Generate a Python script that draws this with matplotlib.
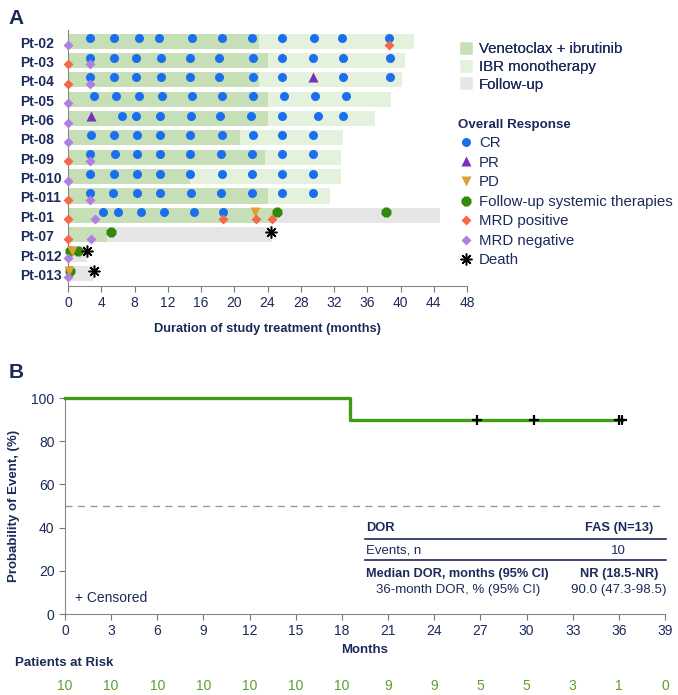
import matplotlib.pyplot as plt
from matplotlib.lines import Line2D
from matplotlib.transforms import blended_transform_factory

plt.rcParams['font.family'] = ['Liberation Sans', 'DejaVu Sans']

NAVY = '#1c2a5a'
C_COMBO = '#c6dfb6'
C_IBR = '#e4f1dc'
C_FU = '#e6e6e6'
C_CR = '#1a6ff0'
C_PR = '#7a2ec0'
C_PD = '#e0a035'
C_FUT = '#2f8a0c'
C_POS = '#f4694a'
C_NEG = '#b17ee2'

# ---------- panel A data ----------
patients = ['Pt-02', 'Pt-03', 'Pt-04', 'Pt-05', 'Pt-06', 'Pt-08', 'Pt-09',
            'Pt-010', 'Pt-011', 'Pt-01', 'Pt-07', 'Pt-012', 'Pt-013']
combo_end = [23.0, 24.0, 23.0, 24.0, 24.0, 20.7, 23.7, 14.7, 24.0, 24.8, 4.7, 0.4, 0.3]
ibr_end = [41.6, 40.6, 40.2, 38.8, 36.9, 33.1, 32.9, 32.8, 31.5, None, None, None, None]
fu_end = [None, None, None, None, None, None, None, None, None, 44.8, 24.5, 2.3, 3.1]

cr = [
    [2.6, 5.5, 8.5, 11.0, 14.9, 18.5, 22.1, 25.7, 29.6, 33.0, 38.6],
    [2.6, 5.5, 8.2, 11.2, 14.7, 18.2, 22.2, 25.8, 29.5, 33.1, 38.7],
    [2.6, 5.5, 8.2, 11.2, 14.7, 18.2, 22.2, 25.8, 33.1, 38.7],
    [3.1, 5.8, 8.5, 11.3, 14.9, 18.5, 22.3, 26.0, 29.7, 33.4],
    [6.5, 8.2, 11.1, 14.8, 18.3, 22.0, 25.8, 30.1, 33.1],
    [2.8, 5.5, 8.3, 11.1, 14.7, 18.5, 22.2, 25.8, 29.5],
    [2.7, 5.6, 8.3, 11.1, 14.7, 18.4, 22.1, 25.8, 29.5],
    [2.7, 5.5, 8.3, 11.1, 14.7, 18.5, 22.1, 25.8, 29.5],
    [2.7, 5.4, 8.3, 11.1, 14.8, 18.4, 22.1, 25.8, 29.5],
    [4.2, 6.0, 8.8, 11.5, 15.2, 18.7],
    [], [], [],
]
pr = [[], [], [29.5], [], [2.8], [], [], [], [], [], [], [], []]
pd = [[], [], [], [], [], [], [], [], [], [22.5], [], [0.5], [0.1]]
fu_therapy = [[], [], [], [], [], [], [], [], [], [25.2, 38.3], [5.2], [0.3, 1.2], [0.3]]
mrd_pos = [[38.6], [0], [0], [], [], [], [0], [], [0], [0, 18.7, 22.6, 24.5], [0], [], []]
mrd_neg = [[0], [2.6], [2.6], [0], [0], [0], [2.7], [0], [2.7], [3.3], [2.8], [0], [0]]
death = [[], [], [], [], [], [], [], [], [], [], [24.4], [2.3], [3.1]]

# ---------- panel B data ----------
km_t = [0, 18.5, 36.2]
km_s = [100, 90, 90]
censor_t = [26.8, 30.5, 36.0, 36.2]
censor_s = [90, 90, 90, 90]
risk_months = [0, 3, 6, 9, 12, 15, 18, 21, 24, 27, 30, 33, 36, 39]
at_risk = [10, 10, 10, 10, 10, 10, 10, 9, 9, 5, 5, 3, 1, 0]

fig = plt.figure(figsize=(6.78, 6.95), dpi=100)

# ================= panel A =================
ax = fig.add_axes([0.1003, 0.5885, 0.5885, 0.3683])
up, low = -0.2, 0.16
death_style = dict(marker=(8, 2, 0), ls='', color='black', ms=8.5, mew=1.1)
for i in range(len(patients)):
    yb = i - 0.05
    ax.barh(yb, combo_end[i], height=0.78, color=C_COMBO, zorder=1)
    if ibr_end[i]:
        ax.barh(yb, ibr_end[i] - combo_end[i], left=combo_end[i], height=0.78, color=C_IBR, zorder=1)
    if fu_end[i]:
        ax.barh(yb, fu_end[i] - combo_end[i], left=combo_end[i], height=0.78, color=C_FU, zorder=1)
    ax.plot(cr[i], [i + up] * len(cr[i]), 'o', color=C_CR, ms=6.5, mec='none', clip_on=False, zorder=3)
    ax.plot(pr[i], [i + up] * len(pr[i]), '^', color=C_PR, ms=7.5, mec='none', clip_on=False, zorder=3)
    ax.plot(fu_therapy[i], [i + up] * len(fu_therapy[i]), '8', color=C_FUT, ms=7.5, mec='none', clip_on=False, zorder=3)
    ax.plot(pd[i], [i + up] * len(pd[i]), 'v', color=C_PD, ms=7.5, mec='none', clip_on=False, zorder=4)
    ax.plot(mrd_pos[i], [i + low] * len(mrd_pos[i]), 'D', color=C_POS, ms=5.5, mec='none', clip_on=False, zorder=4)
    ax.plot(mrd_neg[i], [i + low] * len(mrd_neg[i]), 'D', color=C_NEG, ms=5.5, mec='none', clip_on=False, zorder=4)
    ax.plot(death[i], [i + up] * len(death[i]), clip_on=False, zorder=4, **death_style)

ax.set_xlim(0, 48)
ax.set_ylim(12.6, -0.62)
ax.set_xticks(range(0, 49, 4))
ax.set_yticks(range(len(patients)))
ax.set_yticklabels(patients, fontweight='bold', color=NAVY, fontsize=10, ha='left')
ax.tick_params(axis='y', length=0, pad=34.5)
ax.tick_params(axis='x', colors='#777777', labelcolor=NAVY, labelsize=10, length=4)
for s in ['top', 'right']:
    ax.spines[s].set_visible(False)
ax.spines['left'].set_color('#888888')
ax.spines['bottom'].set_color('#888888')
ax.set_xlabel('Duration of study treatment (months)', fontweight='bold', color=NAVY, fontsize=9.3, labelpad=9)

leg_kw = dict(loc='upper left', frameon=False, fontsize=10.8, handletextpad=0.3,
              borderaxespad=0, handlelength=1.1, labelcolor=NAVY)
h1 = [Line2D([], [], marker='s', ls='', color=c, ms=8, mec='none') for c in [C_COMBO, C_IBR, C_FU]]
leg1 = fig.legend(h1, ['Venetoclax + ibrutinib', 'IBR monotherapy', 'Follow-up'],
                  bbox_to_anchor=(0.667, 0.948), labelspacing=0.25, **leg_kw)
h2 = [Line2D([], [], marker='o', ls='', color=C_CR, ms=6.5, mec='none'),
      Line2D([], [], marker='^', ls='', color=C_PR, ms=7.5, mec='none'),
      Line2D([], [], marker='v', ls='', color=C_PD, ms=7.5, mec='none'),
      Line2D([], [], marker='8', ls='', color=C_FUT, ms=7.5, mec='none'),
      Line2D([], [], marker='D', ls='', color=C_POS, ms=5.5, mec='none'),
      Line2D([], [], marker='D', ls='', color=C_NEG, ms=5.5, mec='none'),
      Line2D([], [], **death_style)]
leg2 = fig.legend(h2, ['CR', 'PR', 'PD', 'Follow-up systemic therapies', 'MRD positive', 'MRD negative', 'Death'],
                  bbox_to_anchor=(0.667, 0.838), title='Overall Response', alignment='left',
                  labelspacing=0.37, **leg_kw)
leg2.get_title().set_fontweight('bold')
leg2.get_title().set_color(NAVY)
leg2.get_title().set_fontsize(9.6)
fig.add_artist(leg1)

fig.text(0.012, 0.987, 'A', fontsize=15, fontweight='bold', color=NAVY, va='top')
fig.text(0.012, 0.477, 'B', fontsize=15, fontweight='bold', color=NAVY, va='top')

# ================= panel B =================
bx = fig.add_axes([0.0959, 0.1165, 0.885, 0.3108])
bx.step(km_t, km_s, where='post', color='#3f9c16', lw=2.4, clip_on=False, zorder=3)
bx.plot(censor_t, censor_s, '+', color='black', ms=7, mew=1.6, zorder=4)
bx.axhline(50, color='#999999', lw=1, ls=(0, (5, 4)))
bx.set_xlim(0, 39)
bx.set_ylim(0, 100)
bx.set_xticks(range(0, 40, 3))
bx.set_yticks(range(0, 101, 20))
for s in ['top', 'right']:
    bx.spines[s].set_visible(False)
bx.spines['left'].set_color('#888888')
bx.spines['bottom'].set_color('#888888')
bx.tick_params(colors='#777777', labelcolor=NAVY, labelsize=10, length=4)
bx.set_xlabel('Months', fontweight='bold', color=NAVY, fontsize=9.5, labelpad=4)
bx.set_ylabel('Probability of Event, (%)', fontweight='bold', color=NAVY, fontsize=9.5, labelpad=8)

bx.text(0.017, 0.075, '+ Censored', transform=bx.transAxes, fontsize=10, color=NAVY, va='center')

tx = bx.transAxes
bx.text(0.502, 0.398, 'DOR', transform=tx, fontsize=9.3, fontweight='bold', color=NAVY, va='center')
bx.text(0.923, 0.398, 'FAS (N=13)', transform=tx, fontsize=9.3, fontweight='bold', color=NAVY, va='center', ha='center')
bx.plot([0.5, 1.002], [0.347, 0.347], transform=tx, color=NAVY, lw=1.2, clip_on=False)
bx.text(0.502, 0.292, 'Events, n', transform=tx, fontsize=9.5, color=NAVY, va='center')
bx.text(0.923, 0.292, '10', transform=tx, fontsize=9.5, color=NAVY, va='center', ha='center')
bx.plot([0.5, 1.002], [0.25, 0.25], transform=tx, color=NAVY, lw=1.2, clip_on=False)
bx.text(0.502, 0.185, 'Median DOR, months (95% CI)', transform=tx, fontsize=9.2, fontweight='bold', color=NAVY, va='center')
bx.text(0.923, 0.185, 'NR (18.5-NR)', transform=tx, fontsize=9.3, fontweight='bold', color=NAVY, va='center', ha='center')
bx.text(0.518, 0.111, '36-month DOR, % (95% CI)', transform=tx, fontsize=9.5, color=NAVY, va='center')
bx.text(0.923, 0.111, '90.0 (47.3-98.5)', transform=tx, fontsize=9.6, color=NAVY, va='center', ha='center')

fig.text(0.022, 1 - 663 / 695, 'Patients at Risk', fontsize=9.5, fontweight='bold', color=NAVY, va='center')
rt = blended_transform_factory(bx.transData, fig.transFigure)
for m, n in zip(risk_months, at_risk):
    bx.text(m, 1 - 686 / 695, str(n), transform=rt, fontsize=10, color='#5aa02c', ha='center', va='center', clip_on=False)

fig.savefig('out.png', dpi=100)
